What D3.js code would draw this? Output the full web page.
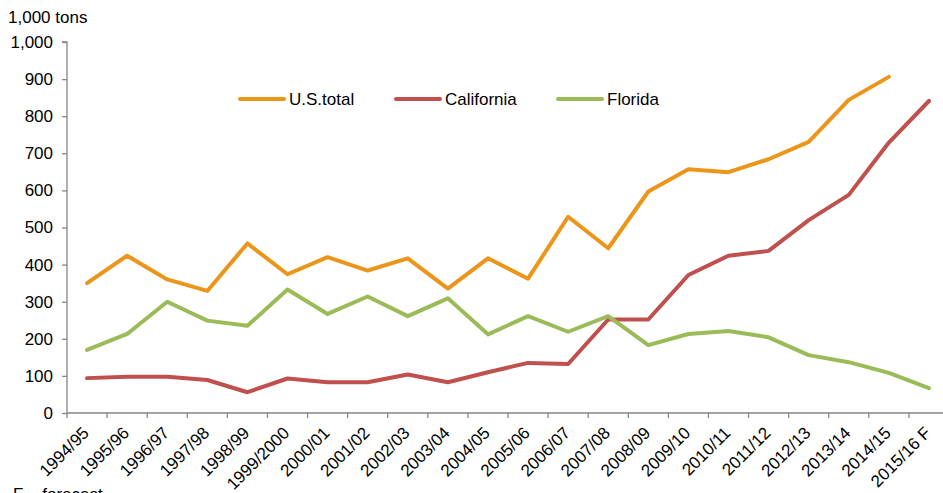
<!DOCTYPE html>
<html>
<head>
<meta charset="utf-8">
<script src="https://cdn.jsdelivr.net/npm/d3@7"></script>
<style>
  body { margin: 0; background: #fff; }
  svg { display: block; font-family: "Liberation Sans", Arial, sans-serif; }
</style>
</head>
<body>
<div id="chart"></div>
<script>
const seasons = ["1994/95", "1995/96", "1996/97", "1997/98", "1998/99", "1999/2000", "2000/01", "2001/02",
    "2002/03", "2003/04", "2004/05", "2005/06", "2006/07", "2007/08", "2008/09", "2009/10", "2010/11",
    "2011/12", "2012/13", "2013/14", "2014/15", "2015/16 F"];
const usTotal = [350, 424, 360, 329, 457, 374, 420, 384, 417, 335, 417, 362, 529, 444, 597, 657, 649,
    684, 731, 844, 906, null];
const california = [94, 98, 98, 89, 56, 93, 83, 83, 104, 83, 110, 135, 132, 252, 252, 372, 424,
    437, 520, 588, 729, 841];
const florida = [170, 213, 300, 249, 235, 333, 267, 314, 261, 309, 212, 261, 219, 261, 183, 213, 221,
    204, 156, 137, 108, 67];
const yTicks = [0, 100, 200, 300, 400, 500, 600, 700, 800, 900, 1000];

const series = [
    { name: "U.S.total", values: usTotal, color: "#EB961B" },
    { name: "California", values: california, color: "#C0504D" },
    { name: "Florida", values: florida, color: "#9BBB59" }
];

(function () {
    const w = 943, h = 493;
    const left = 67, right = 949, top = 42, bottom = 413;
    const fontFamily = "Liberation Sans, Arial, sans-serif";

    const svg = d3.select("#chart").append("svg")
        .attr("width", w)
        .attr("height", h);

    const xScale = d3.scaleBand()
        .domain(seasons)
        .range([left, right]);

    const yScale = d3.scaleLinear()
        .domain([0, 1000])
        .range([bottom, top]);

    svg.append("text")
        .attr("x", 8)
        .attr("y", 23)
        .attr("font-size", 17)
        .text("1,000 tons");

    const yAxis = svg.append("g")
        .attr("transform", `translate(${left},0)`)
        .call(d3.axisLeft(yScale).tickValues(yTicks).tickSize(5).tickPadding(9)
            .tickFormat(d3.format(",")));
    yAxis.selectAll("path, line").attr("stroke", "#868686").attr("stroke-width", 1.3);
    yAxis.select(".domain").attr("d", `M-5,${top}H0V${bottom}`);
    yAxis.selectAll("text").attr("font-size", 17).attr("fill", "#000")
        .attr("font-family", fontFamily);

    const xAxis = svg.append("g")
        .attr("transform", `translate(0,${bottom})`)
        .call(d3.axisBottom(xScale).tickSize(0).tickPadding(0));
    xAxis.select(".domain").attr("stroke", "#868686").attr("stroke-width", 1.3)
        .attr("d", `M${left},0H${right}`);
    xAxis.selectAll(".tick text")
        .attr("font-size", 17)
        .attr("fill", "#000")
        .attr("font-family", fontFamily)
        .attr("text-anchor", "end")
        .attr("dy", null)
        .attr("transform", "translate(3,21) rotate(-45)");

    // tick marks on band edges
    svg.append("g").selectAll("line")
        .data(seasons)
        .enter()
        .append("line")
        .attr("x1", d => xScale(d))
        .attr("x2", d => xScale(d))
        .attr("y1", bottom)
        .attr("y2", bottom + 5)
        .attr("stroke", "#868686")
        .attr("stroke-width", 1.3);

    const line = d3.line()
        .defined(d => d.v !== null)
        .x(d => xScale(d.s) + xScale.bandwidth() / 2)
        .y(d => yScale(d.v));

    svg.append("g").selectAll("path")
        .data(series)
        .enter()
        .append("path")
        .attr("d", d => line(d.values.map((v, i) => ({ s: seasons[i], v: v }))))
        .attr("fill", "none")
        .attr("stroke", d => d.color)
        .attr("stroke-width", 4)
        .attr("stroke-linejoin", "round")
        .attr("stroke-linecap", "round");

    const legendX = [240, 396, 558];
    const legend = svg.append("g").selectAll("g")
        .data(series)
        .enter()
        .append("g")
        .attr("transform", (d, i) => `translate(${legendX[i]},99)`);
    legend.append("line")
        .attr("x1", 0).attr("x2", 44)
        .attr("stroke", d => d.color)
        .attr("stroke-width", 4)
        .attr("stroke-linecap", "round");
    legend.append("text")
        .attr("x", 49)
        .attr("y", 6)
        .attr("font-size", 17)
        .text(d => d.name);

    svg.append("text")
        .attr("x", 13)
        .attr("y", 500)
        .attr("font-size", 17)
        .text("F \u2013 forecast");
})();
</script>
</body>
</html>
